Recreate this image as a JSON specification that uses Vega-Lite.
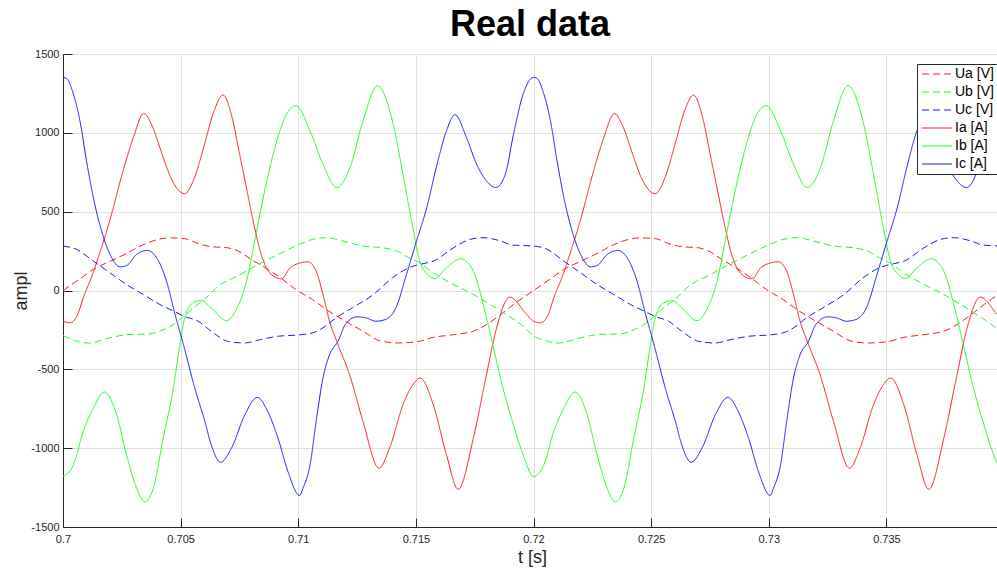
{
"$schema":"https://vega.github.io/schema/vega-lite/v6.json",
"width":934,"height":473,
"autosize":{"type":"none"},
"padding":{"left":63,"top":54,"right":0,"bottom":45},
"background":"white",
"title":{"text":"Real data","fontSize":36,"fontWeight":"bold","font":"Liberation Sans","color":"#000000","offset":4,"anchor":"middle"},
"config":{
"view":{"stroke":"#262626","strokeWidth":1},
"axis":{"domainColor":"#262626","tickColor":"#262626","gridColor":"#e1e1e1","labelColor":"#262626","labelFont":"Liberation Sans","labelFontSize":11,"titleFont":"Liberation Sans","titleFontSize":18,"titleFontWeight":"normal","titleColor":"#262626","labelFlush":false,"labelOverlap":false,"tickSize":-9,"grid":true},
"legend":{"orient":"none","legendX":854,"legendY":10,"strokeColor":"#262626","fillColor":"white","padding":3,"labelFont":"Liberation Sans","labelFontSize":14,"labelColor":"#000000","symbolType":"M-1,0H5","symbolSize":100,"symbolStrokeWidth":1,"labelOffset":21,"rowPadding":4,"labelLimit":200}
},
"data":{"values":[
{"s":"Ia [A]","t":0.70000,"v":-195},{"s":"Ia [A]","t":0.70030,"v":-205},{"s":"Ia [A]","t":0.70060,"v":-160},{"s":"Ia [A]","t":0.70090,"v":-30},{"s":"Ia [A]","t":0.70120,"v":80},{"s":"Ia [A]","t":0.70150,"v":210},{"s":"Ia [A]","t":0.70200,"v":450},{"s":"Ia [A]","t":0.70250,"v":730},{"s":"Ia [A]","t":0.70300,"v":975},{"s":"Ia [A]","t":0.70343,"v":1123},{"s":"Ia [A]","t":0.70380,"v":1040},{"s":"Ia [A]","t":0.70420,"v":870},{"s":"Ia [A]","t":0.70460,"v":710},{"s":"Ia [A]","t":0.70517,"v":614},{"s":"Ia [A]","t":0.70560,"v":720},{"s":"Ia [A]","t":0.70600,"v":920},{"s":"Ia [A]","t":0.70640,"v":1130},{"s":"Ia [A]","t":0.70680,"v":1240},{"s":"Ia [A]","t":0.70720,"v":1090},{"s":"Ia [A]","t":0.70750,"v":870},{"s":"Ia [A]","t":0.70780,"v":650},{"s":"Ia [A]","t":0.70810,"v":430},{"s":"Ia [A]","t":0.70840,"v":240},{"s":"Ia [A]","t":0.70880,"v":110},{"s":"Ia [A]","t":0.70928,"v":74},{"s":"Ia [A]","t":0.70970,"v":150},{"s":"Ia [A]","t":0.71040,"v":182},{"s":"Ia [A]","t":0.71076,"v":123},{"s":"Ia [A]","t":0.71105,"v":-25},{"s":"Ia [A]","t":0.71133,"v":-195},{"s":"Ia [A]","t":0.71169,"v":-343},{"s":"Ia [A]","t":0.71218,"v":-534},{"s":"Ia [A]","t":0.71275,"v":-830},{"s":"Ia [A]","t":0.71343,"v":-1127},{"s":"Ia [A]","t":0.71388,"v":-1000},{"s":"Ia [A]","t":0.71445,"v":-725},{"s":"Ia [A]","t":0.71487,"v":-598},{"s":"Ia [A]","t":0.71518,"v":-555},{"s":"Ia [A]","t":0.71574,"v":-725},{"s":"Ia [A]","t":0.71630,"v":-1043},{"s":"Ia [A]","t":0.71680,"v":-1261},{"s":"Ia [A]","t":0.71744,"v":-937},{"s":"Ia [A]","t":0.71800,"v":-534},{"s":"Ia [A]","t":0.71843,"v":-237},{"s":"Ia [A]","t":0.71899,"v":-42},{"s":"Ia [A]","t":0.71970,"v":-150},
{"s":"Ia [A]","t":0.72000,"v":-195},{"s":"Ia [A]","t":0.72030,"v":-205},{"s":"Ia [A]","t":0.72060,"v":-160},{"s":"Ia [A]","t":0.72090,"v":-30},{"s":"Ia [A]","t":0.72120,"v":80},{"s":"Ia [A]","t":0.72150,"v":210},{"s":"Ia [A]","t":0.72200,"v":450},{"s":"Ia [A]","t":0.72250,"v":730},{"s":"Ia [A]","t":0.72300,"v":975},{"s":"Ia [A]","t":0.72343,"v":1123},{"s":"Ia [A]","t":0.72380,"v":1040},{"s":"Ia [A]","t":0.72420,"v":870},{"s":"Ia [A]","t":0.72460,"v":710},{"s":"Ia [A]","t":0.72517,"v":614},{"s":"Ia [A]","t":0.72560,"v":720},{"s":"Ia [A]","t":0.72600,"v":920},{"s":"Ia [A]","t":0.72640,"v":1130},{"s":"Ia [A]","t":0.72680,"v":1240},{"s":"Ia [A]","t":0.72720,"v":1090},{"s":"Ia [A]","t":0.72750,"v":870},{"s":"Ia [A]","t":0.72780,"v":650},{"s":"Ia [A]","t":0.72810,"v":430},{"s":"Ia [A]","t":0.72840,"v":240},{"s":"Ia [A]","t":0.72880,"v":110},{"s":"Ia [A]","t":0.72928,"v":74},{"s":"Ia [A]","t":0.72970,"v":150},{"s":"Ia [A]","t":0.73040,"v":182},{"s":"Ia [A]","t":0.73076,"v":123},{"s":"Ia [A]","t":0.73105,"v":-25},{"s":"Ia [A]","t":0.73133,"v":-195},{"s":"Ia [A]","t":0.73169,"v":-343},{"s":"Ia [A]","t":0.73218,"v":-534},{"s":"Ia [A]","t":0.73275,"v":-830},{"s":"Ia [A]","t":0.73343,"v":-1127},{"s":"Ia [A]","t":0.73388,"v":-1000},{"s":"Ia [A]","t":0.73445,"v":-725},{"s":"Ia [A]","t":0.73487,"v":-598},{"s":"Ia [A]","t":0.73518,"v":-555},{"s":"Ia [A]","t":0.73574,"v":-725},{"s":"Ia [A]","t":0.73630,"v":-1043},{"s":"Ia [A]","t":0.73680,"v":-1261},{"s":"Ia [A]","t":0.73744,"v":-937},{"s":"Ia [A]","t":0.73800,"v":-534},{"s":"Ia [A]","t":0.73843,"v":-237},{"s":"Ia [A]","t":0.73899,"v":-42},{"s":"Ia [A]","t":0.73970,"v":-150},{"s":"Ia [A]","t":0.74000,"v":-195},

{"s":"Ua [V]","t":0.70000,"v":0},{"s":"Ua [V]","t":0.70070,"v":72},{"s":"Ua [V]","t":0.70130,"v":135},{"s":"Ua [V]","t":0.70200,"v":185},{"s":"Ua [V]","t":0.70270,"v":235},{"s":"Ua [V]","t":0.70340,"v":290},{"s":"Ua [V]","t":0.70410,"v":326},{"s":"Ua [V]","t":0.70460,"v":334},{"s":"Ua [V]","t":0.70520,"v":328},{"s":"Ua [V]","t":0.70580,"v":295},{"s":"Ua [V]","t":0.70630,"v":278},{"s":"Ua [V]","t":0.70700,"v":271},{"s":"Ua [V]","t":0.70745,"v":250},{"s":"Ua [V]","t":0.70800,"v":197},{"s":"Ua [V]","t":0.70860,"v":144},{"s":"Ua [V]","t":0.70915,"v":91},{"s":"Ua [V]","t":0.70990,"v":6},{"s":"Ua [V]","t":0.71060,"v":-57},{"s":"Ua [V]","t":0.71130,"v":-131},{"s":"Ua [V]","t":0.71200,"v":-195},{"s":"Ua [V]","t":0.71275,"v":-258},{"s":"Ua [V]","t":0.71345,"v":-318},{"s":"Ua [V]","t":0.71420,"v":-333},{"s":"Ua [V]","t":0.71500,"v":-326},{"s":"Ua [V]","t":0.71574,"v":-297},{"s":"Ua [V]","t":0.71660,"v":-280},{"s":"Ua [V]","t":0.71744,"v":-258},{"s":"Ua [V]","t":0.71800,"v":-216},{"s":"Ua [V]","t":0.71860,"v":-153},{"s":"Ua [V]","t":0.71915,"v":-89},
{"s":"Ua [V]","t":0.72000,"v":0},{"s":"Ua [V]","t":0.72070,"v":72},{"s":"Ua [V]","t":0.72130,"v":135},{"s":"Ua [V]","t":0.72200,"v":185},{"s":"Ua [V]","t":0.72270,"v":235},{"s":"Ua [V]","t":0.72340,"v":290},{"s":"Ua [V]","t":0.72410,"v":326},{"s":"Ua [V]","t":0.72460,"v":334},{"s":"Ua [V]","t":0.72520,"v":328},{"s":"Ua [V]","t":0.72580,"v":295},{"s":"Ua [V]","t":0.72630,"v":278},{"s":"Ua [V]","t":0.72700,"v":271},{"s":"Ua [V]","t":0.72745,"v":250},{"s":"Ua [V]","t":0.72800,"v":197},{"s":"Ua [V]","t":0.72860,"v":144},{"s":"Ua [V]","t":0.72915,"v":91},{"s":"Ua [V]","t":0.72990,"v":6},{"s":"Ua [V]","t":0.73060,"v":-57},{"s":"Ua [V]","t":0.73130,"v":-131},{"s":"Ua [V]","t":0.73200,"v":-195},{"s":"Ua [V]","t":0.73275,"v":-258},{"s":"Ua [V]","t":0.73345,"v":-318},{"s":"Ua [V]","t":0.73420,"v":-333},{"s":"Ua [V]","t":0.73500,"v":-326},{"s":"Ua [V]","t":0.73574,"v":-297},{"s":"Ua [V]","t":0.73660,"v":-280},{"s":"Ua [V]","t":0.73744,"v":-258},{"s":"Ua [V]","t":0.73800,"v":-216},{"s":"Ua [V]","t":0.73860,"v":-153},{"s":"Ua [V]","t":0.73915,"v":-89},{"s":"Ua [V]","t":0.74000,"v":0},

{"s":"Ub [V]","t":0.70000,"v":-286},{"s":"Ub [V]","t":0.70050,"v":-318},{"s":"Ub [V]","t":0.70108,"v":-333},{"s":"Ub [V]","t":0.70200,"v":-300},{"s":"Ub [V]","t":0.70270,"v":-280},{"s":"Ub [V]","t":0.70370,"v":-275},{"s":"Ub [V]","t":0.70412,"v":-258},{"s":"Ub [V]","t":0.70469,"v":-216},{"s":"Ub [V]","t":0.70514,"v":-163},{"s":"Ub [V]","t":0.70546,"v":-121},{"s":"Ub [V]","t":0.70600,"v":-57},{"s":"Ub [V]","t":0.70670,"v":38},{"s":"Ub [V]","t":0.70740,"v":91},{"s":"Ub [V]","t":0.70830,"v":165},{"s":"Ub [V]","t":0.70915,"v":229},{"s":"Ub [V]","t":0.71000,"v":290},{"s":"Ub [V]","t":0.71060,"v":324},{"s":"Ub [V]","t":0.71120,"v":335},{"s":"Ub [V]","t":0.71190,"v":314},{"s":"Ub [V]","t":0.71275,"v":282},{"s":"Ub [V]","t":0.71360,"v":271},{"s":"Ub [V]","t":0.71420,"v":250},{"s":"Ub [V]","t":0.71470,"v":208},{"s":"Ub [V]","t":0.71510,"v":180},{"s":"Ub [V]","t":0.71574,"v":112},{"s":"Ub [V]","t":0.71660,"v":38},{"s":"Ub [V]","t":0.71744,"v":-25},{"s":"Ub [V]","t":0.71815,"v":-89},{"s":"Ub [V]","t":0.71885,"v":-153},{"s":"Ub [V]","t":0.71956,"v":-227},
{"s":"Ub [V]","t":0.72000,"v":-286},{"s":"Ub [V]","t":0.72050,"v":-318},{"s":"Ub [V]","t":0.72108,"v":-333},{"s":"Ub [V]","t":0.72200,"v":-300},{"s":"Ub [V]","t":0.72270,"v":-280},{"s":"Ub [V]","t":0.72370,"v":-275},{"s":"Ub [V]","t":0.72412,"v":-258},{"s":"Ub [V]","t":0.72469,"v":-216},{"s":"Ub [V]","t":0.72514,"v":-163},{"s":"Ub [V]","t":0.72546,"v":-121},{"s":"Ub [V]","t":0.72600,"v":-57},{"s":"Ub [V]","t":0.72670,"v":38},{"s":"Ub [V]","t":0.72740,"v":91},{"s":"Ub [V]","t":0.72830,"v":165},{"s":"Ub [V]","t":0.72915,"v":229},{"s":"Ub [V]","t":0.73000,"v":290},{"s":"Ub [V]","t":0.73060,"v":324},{"s":"Ub [V]","t":0.73120,"v":335},{"s":"Ub [V]","t":0.73190,"v":314},{"s":"Ub [V]","t":0.73275,"v":282},{"s":"Ub [V]","t":0.73360,"v":271},{"s":"Ub [V]","t":0.73420,"v":250},{"s":"Ub [V]","t":0.73470,"v":208},{"s":"Ub [V]","t":0.73510,"v":180},{"s":"Ub [V]","t":0.73574,"v":112},{"s":"Ub [V]","t":0.73660,"v":38},{"s":"Ub [V]","t":0.73744,"v":-25},{"s":"Ub [V]","t":0.73815,"v":-89},{"s":"Ub [V]","t":0.73885,"v":-153},{"s":"Ub [V]","t":0.73956,"v":-227},{"s":"Ub [V]","t":0.74000,"v":-286},

{"s":"Uc [V]","t":0.70000,"v":282},{"s":"Uc [V]","t":0.70058,"v":261},{"s":"Uc [V]","t":0.70129,"v":186},{"s":"Uc [V]","t":0.70200,"v":112},{"s":"Uc [V]","t":0.70270,"v":38},{"s":"Uc [V]","t":0.70341,"v":-25},{"s":"Uc [V]","t":0.70412,"v":-89},{"s":"Uc [V]","t":0.70476,"v":-135},{"s":"Uc [V]","t":0.70514,"v":-163},{"s":"Uc [V]","t":0.70574,"v":-195},{"s":"Uc [V]","t":0.70630,"v":-258},{"s":"Uc [V]","t":0.70700,"v":-322},{"s":"Uc [V]","t":0.70770,"v":-333},{"s":"Uc [V]","t":0.70840,"v":-311},{"s":"Uc [V]","t":0.70915,"v":-290},{"s":"Uc [V]","t":0.71000,"v":-282},{"s":"Uc [V]","t":0.71060,"v":-269},{"s":"Uc [V]","t":0.71105,"v":-237},{"s":"Uc [V]","t":0.71160,"v":-174},{"s":"Uc [V]","t":0.71230,"v":-110},{"s":"Uc [V]","t":0.71320,"v":-25},{"s":"Uc [V]","t":0.71400,"v":80},{"s":"Uc [V]","t":0.71470,"v":144},{"s":"Uc [V]","t":0.71530,"v":170},{"s":"Uc [V]","t":0.71574,"v":186},{"s":"Uc [V]","t":0.71660,"v":271},{"s":"Uc [V]","t":0.71730,"v":324},{"s":"Uc [V]","t":0.71785,"v":335},{"s":"Uc [V]","t":0.71860,"v":314},{"s":"Uc [V]","t":0.71910,"v":288},
{"s":"Uc [V]","t":0.72000,"v":282},{"s":"Uc [V]","t":0.72058,"v":261},{"s":"Uc [V]","t":0.72129,"v":186},{"s":"Uc [V]","t":0.72200,"v":112},{"s":"Uc [V]","t":0.72270,"v":38},{"s":"Uc [V]","t":0.72341,"v":-25},{"s":"Uc [V]","t":0.72412,"v":-89},{"s":"Uc [V]","t":0.72476,"v":-135},{"s":"Uc [V]","t":0.72514,"v":-163},{"s":"Uc [V]","t":0.72574,"v":-195},{"s":"Uc [V]","t":0.72630,"v":-258},{"s":"Uc [V]","t":0.72700,"v":-322},{"s":"Uc [V]","t":0.72770,"v":-333},{"s":"Uc [V]","t":0.72840,"v":-311},{"s":"Uc [V]","t":0.72915,"v":-290},{"s":"Uc [V]","t":0.73000,"v":-282},{"s":"Uc [V]","t":0.73060,"v":-269},{"s":"Uc [V]","t":0.73105,"v":-237},{"s":"Uc [V]","t":0.73160,"v":-174},{"s":"Uc [V]","t":0.73230,"v":-110},{"s":"Uc [V]","t":0.73320,"v":-25},{"s":"Uc [V]","t":0.73400,"v":80},{"s":"Uc [V]","t":0.73470,"v":144},{"s":"Uc [V]","t":0.73530,"v":170},{"s":"Uc [V]","t":0.73574,"v":186},{"s":"Uc [V]","t":0.73660,"v":271},{"s":"Uc [V]","t":0.73730,"v":324},{"s":"Uc [V]","t":0.73785,"v":335},{"s":"Uc [V]","t":0.73860,"v":314},{"s":"Uc [V]","t":0.73910,"v":288},{"s":"Uc [V]","t":0.74000,"v":282},

{"s":"Ib [A]","t":0.70000,"v":-1180},{"s":"Ib [A]","t":0.70044,"v":-1106},{"s":"Ib [A]","t":0.70086,"v":-894},{"s":"Ib [A]","t":0.70129,"v":-746},{"s":"Ib [A]","t":0.70176,"v":-644},{"s":"Ib [A]","t":0.70228,"v":-788},{"s":"Ib [A]","t":0.70270,"v":-1043},{"s":"Ib [A]","t":0.70313,"v":-1254},{"s":"Ib [A]","t":0.70348,"v":-1340},{"s":"Ib [A]","t":0.70384,"v":-1254},{"s":"Ib [A]","t":0.70426,"v":-937},{"s":"Ib [A]","t":0.70469,"v":-619},{"s":"Ib [A]","t":0.70490,"v":-410},{"s":"Ib [A]","t":0.70515,"v":-190},{"s":"Ib [A]","t":0.70546,"v":-85},{"s":"Ib [A]","t":0.70588,"v":-64},{"s":"Ib [A]","t":0.70630,"v":-110},{"s":"Ib [A]","t":0.70695,"v":-191},{"s":"Ib [A]","t":0.70740,"v":-110},{"s":"Ib [A]","t":0.70780,"v":59},{"s":"Ib [A]","t":0.70820,"v":356},{"s":"Ib [A]","t":0.70860,"v":653},{"s":"Ib [A]","t":0.70905,"v":928},{"s":"Ib [A]","t":0.70950,"v":1119},{"s":"Ib [A]","t":0.70990,"v":1172},{"s":"Ib [A]","t":0.71050,"v":1013},{"s":"Ib [A]","t":0.71105,"v":801},{"s":"Ib [A]","t":0.71164,"v":653},{"s":"Ib [A]","t":0.71220,"v":780},{"s":"Ib [A]","t":0.71275,"v":1076},{"s":"Ib [A]","t":0.71337,"v":1299},{"s":"Ib [A]","t":0.71400,"v":1076},{"s":"Ib [A]","t":0.71445,"v":737},{"s":"Ib [A]","t":0.71487,"v":398},{"s":"Ib [A]","t":0.71517,"v":186},{"s":"Ib [A]","t":0.71550,"v":102},{"s":"Ib [A]","t":0.71580,"v":76},{"s":"Ib [A]","t":0.71630,"v":144},{"s":"Ib [A]","t":0.71690,"v":201},{"s":"Ib [A]","t":0.71744,"v":123},{"s":"Ib [A]","t":0.71790,"v":-110},{"s":"Ib [A]","t":0.71830,"v":-364},{"s":"Ib [A]","t":0.71870,"v":-619},{"s":"Ib [A]","t":0.71910,"v":-830},{"s":"Ib [A]","t":0.71956,"v":-1043},
{"s":"Ib [A]","t":0.72000,"v":-1180},{"s":"Ib [A]","t":0.72044,"v":-1106},{"s":"Ib [A]","t":0.72086,"v":-894},{"s":"Ib [A]","t":0.72129,"v":-746},{"s":"Ib [A]","t":0.72176,"v":-644},{"s":"Ib [A]","t":0.72228,"v":-788},{"s":"Ib [A]","t":0.72270,"v":-1043},{"s":"Ib [A]","t":0.72313,"v":-1254},{"s":"Ib [A]","t":0.72348,"v":-1340},{"s":"Ib [A]","t":0.72384,"v":-1254},{"s":"Ib [A]","t":0.72426,"v":-937},{"s":"Ib [A]","t":0.72469,"v":-619},{"s":"Ib [A]","t":0.72490,"v":-410},{"s":"Ib [A]","t":0.72515,"v":-190},{"s":"Ib [A]","t":0.72546,"v":-85},{"s":"Ib [A]","t":0.72588,"v":-64},{"s":"Ib [A]","t":0.72630,"v":-110},{"s":"Ib [A]","t":0.72695,"v":-191},{"s":"Ib [A]","t":0.72740,"v":-110},{"s":"Ib [A]","t":0.72780,"v":59},{"s":"Ib [A]","t":0.72820,"v":356},{"s":"Ib [A]","t":0.72860,"v":653},{"s":"Ib [A]","t":0.72905,"v":928},{"s":"Ib [A]","t":0.72950,"v":1119},{"s":"Ib [A]","t":0.72990,"v":1172},{"s":"Ib [A]","t":0.73050,"v":1013},{"s":"Ib [A]","t":0.73105,"v":801},{"s":"Ib [A]","t":0.73164,"v":653},{"s":"Ib [A]","t":0.73220,"v":780},{"s":"Ib [A]","t":0.73275,"v":1076},{"s":"Ib [A]","t":0.73337,"v":1299},{"s":"Ib [A]","t":0.73400,"v":1076},{"s":"Ib [A]","t":0.73445,"v":737},{"s":"Ib [A]","t":0.73487,"v":398},{"s":"Ib [A]","t":0.73517,"v":186},{"s":"Ib [A]","t":0.73550,"v":102},{"s":"Ib [A]","t":0.73580,"v":76},{"s":"Ib [A]","t":0.73630,"v":144},{"s":"Ib [A]","t":0.73690,"v":201},{"s":"Ib [A]","t":0.73744,"v":123},{"s":"Ib [A]","t":0.73790,"v":-110},{"s":"Ib [A]","t":0.73830,"v":-364},{"s":"Ib [A]","t":0.73870,"v":-619},{"s":"Ib [A]","t":0.73910,"v":-830},{"s":"Ib [A]","t":0.73956,"v":-1043},{"s":"Ib [A]","t":0.74000,"v":-1180},

{"s":"Ic [A]","t":0.70000,"v":1352},{"s":"Ic [A]","t":0.70015,"v":1345},{"s":"Ic [A]","t":0.70044,"v":1246},{"s":"Ic [A]","t":0.70072,"v":1076},{"s":"Ic [A]","t":0.70100,"v":822},{"s":"Ic [A]","t":0.70129,"v":589},{"s":"Ic [A]","t":0.70164,"v":377},{"s":"Ic [A]","t":0.70200,"v":229},{"s":"Ic [A]","t":0.70242,"v":150},{"s":"Ic [A]","t":0.70270,"v":158},{"s":"Ic [A]","t":0.70313,"v":229},{"s":"Ic [A]","t":0.70358,"v":254},{"s":"Ic [A]","t":0.70398,"v":208},{"s":"Ic [A]","t":0.70440,"v":59},{"s":"Ic [A]","t":0.70476,"v":-150},{"s":"Ic [A]","t":0.70515,"v":-360},{"s":"Ic [A]","t":0.70560,"v":-619},{"s":"Ic [A]","t":0.70603,"v":-830},{"s":"Ic [A]","t":0.70630,"v":-979},{"s":"Ic [A]","t":0.70670,"v":-1089},{"s":"Ic [A]","t":0.70716,"v":-1000},{"s":"Ic [A]","t":0.70773,"v":-788},{"s":"Ic [A]","t":0.70826,"v":-678},{"s":"Ic [A]","t":0.70870,"v":-767},{"s":"Ic [A]","t":0.70914,"v":-937},{"s":"Ic [A]","t":0.70956,"v":-1148},{"s":"Ic [A]","t":0.71006,"v":-1300},{"s":"Ic [A]","t":0.71020,"v":-1254},{"s":"Ic [A]","t":0.71050,"v":-1106},{"s":"Ic [A]","t":0.71076,"v":-830},{"s":"Ic [A]","t":0.71105,"v":-555},{"s":"Ic [A]","t":0.71133,"v":-407},{"s":"Ic [A]","t":0.71169,"v":-322},{"s":"Ic [A]","t":0.71200,"v":-216},{"s":"Ic [A]","t":0.71250,"v":-167},{"s":"Ic [A]","t":0.71289,"v":-174},{"s":"Ic [A]","t":0.71330,"v":-195},{"s":"Ic [A]","t":0.71370,"v":-184},{"s":"Ic [A]","t":0.71415,"v":-110},{"s":"Ic [A]","t":0.71460,"v":102},{"s":"Ic [A]","t":0.71500,"v":300},{"s":"Ic [A]","t":0.71546,"v":525},{"s":"Ic [A]","t":0.71590,"v":801},{"s":"Ic [A]","t":0.71630,"v":1013},{"s":"Ic [A]","t":0.71666,"v":1115},{"s":"Ic [A]","t":0.71715,"v":970},{"s":"Ic [A]","t":0.71758,"v":801},{"s":"Ic [A]","t":0.71800,"v":695},{"s":"Ic [A]","t":0.71840,"v":653},{"s":"Ic [A]","t":0.71880,"v":737},{"s":"Ic [A]","t":0.71915,"v":992},{"s":"Ic [A]","t":0.71956,"v":1246},
{"s":"Ic [A]","t":0.72000,"v":1352},{"s":"Ic [A]","t":0.72015,"v":1345},{"s":"Ic [A]","t":0.72044,"v":1246},{"s":"Ic [A]","t":0.72072,"v":1076},{"s":"Ic [A]","t":0.72100,"v":822},{"s":"Ic [A]","t":0.72129,"v":589},{"s":"Ic [A]","t":0.72164,"v":377},{"s":"Ic [A]","t":0.72200,"v":229},{"s":"Ic [A]","t":0.72242,"v":150},{"s":"Ic [A]","t":0.72270,"v":158},{"s":"Ic [A]","t":0.72313,"v":229},{"s":"Ic [A]","t":0.72358,"v":254},{"s":"Ic [A]","t":0.72398,"v":208},{"s":"Ic [A]","t":0.72440,"v":59},{"s":"Ic [A]","t":0.72476,"v":-150},{"s":"Ic [A]","t":0.72515,"v":-360},{"s":"Ic [A]","t":0.72560,"v":-619},{"s":"Ic [A]","t":0.72603,"v":-830},{"s":"Ic [A]","t":0.72630,"v":-979},{"s":"Ic [A]","t":0.72670,"v":-1089},{"s":"Ic [A]","t":0.72716,"v":-1000},{"s":"Ic [A]","t":0.72773,"v":-788},{"s":"Ic [A]","t":0.72826,"v":-678},{"s":"Ic [A]","t":0.72870,"v":-767},{"s":"Ic [A]","t":0.72914,"v":-937},{"s":"Ic [A]","t":0.72956,"v":-1148},{"s":"Ic [A]","t":0.73006,"v":-1300},{"s":"Ic [A]","t":0.73020,"v":-1254},{"s":"Ic [A]","t":0.73050,"v":-1106},{"s":"Ic [A]","t":0.73076,"v":-830},{"s":"Ic [A]","t":0.73105,"v":-555},{"s":"Ic [A]","t":0.73133,"v":-407},{"s":"Ic [A]","t":0.73169,"v":-322},{"s":"Ic [A]","t":0.73200,"v":-216},{"s":"Ic [A]","t":0.73250,"v":-167},{"s":"Ic [A]","t":0.73289,"v":-174},{"s":"Ic [A]","t":0.73330,"v":-195},{"s":"Ic [A]","t":0.73370,"v":-184},{"s":"Ic [A]","t":0.73415,"v":-110},{"s":"Ic [A]","t":0.73460,"v":102},{"s":"Ic [A]","t":0.73500,"v":300},{"s":"Ic [A]","t":0.73546,"v":525},{"s":"Ic [A]","t":0.73590,"v":801},{"s":"Ic [A]","t":0.73630,"v":1013},{"s":"Ic [A]","t":0.73666,"v":1115},{"s":"Ic [A]","t":0.73715,"v":970},{"s":"Ic [A]","t":0.73758,"v":801},{"s":"Ic [A]","t":0.73800,"v":695},{"s":"Ic [A]","t":0.73840,"v":653},{"s":"Ic [A]","t":0.73880,"v":737},{"s":"Ic [A]","t":0.73915,"v":992},{"s":"Ic [A]","t":0.73956,"v":1246},{"s":"Ic [A]","t":0.74000,"v":1352}
]},
"mark":{"type":"line","strokeWidth":1,"interpolate":"monotone","clip":true},
"encoding":{
"x":{"field":"t","type":"quantitative","scale":{"domain":[0.7,0.7397],"nice":false,"zero":false},
 "axis":{"title":"t [s]","values":[0.7,0.705,0.71,0.715,0.72,0.725,0.73,0.735],"format":".3~f","labelPadding":15,"titleX":469,"titleY":21,"titleBaseline":"top"}},
"y":{"field":"v","type":"quantitative","scale":{"domain":[-1500,1500],"nice":false,"zero":false},
 "axis":{"title":"ampl","values":[-1500,-1000,-500,0,500,1000,1500],"labelExpr":"'' + datum.value","labelPadding":13,"titleX":-33,"titleY":236.5,"titleBaseline":"bottom","titleAngle":-90}},
"color":{"field":"s","type":"nominal","scale":{"domain":["Ua [V]","Ub [V]","Uc [V]","Ia [A]","Ib [A]","Ic [A]"],"range":["#ff1a1a","#1aff1a","#1a1aff","#ff1a1a","#1aff1a","#1a1aff"]},"legend":{"title":null}},
"strokeDash":{"field":"s","type":"nominal","scale":{"domain":["Ua [V]","Ub [V]","Uc [V]","Ia [A]","Ib [A]","Ic [A]"],"range":[[7,4],[7,4],[7,4],[1,0],[1,0],[1,0]]},"legend":{"title":null}}
}
}
